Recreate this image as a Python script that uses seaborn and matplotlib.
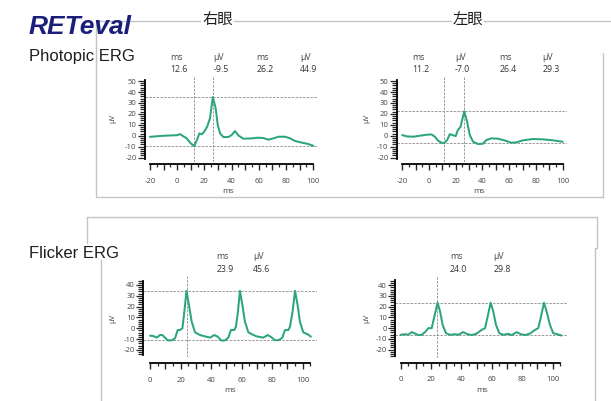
import numpy as np
import pandas as pd
import matplotlib
matplotlib.use("Agg")
import matplotlib.pyplot as plt
import seaborn as sns
from matplotlib.ticker import FixedLocator, FuncFormatter
from matplotlib.lines import Line2D

# ---------------- data ----------------
# Photopic ERG, right eye (右眼)
pr_ms = [-20, -10, 0, 2, 7, 10, 12.6, 15, 16.3, 18, 19.5, 22, 24.1, 25.4, 26.2, 28.3, 29.8,
         31.5, 33.9, 37.6, 40, 42.5, 44.9, 48.6, 54.8, 59.7, 63.3, 67, 70.7, 74.4, 79.3,
         83, 86.6, 91.5, 96.4, 100]
pr_uv = [-1, 0, 0.5, 1.5, -2.4, -7, -9.5, -2.4, 2.2, 1.3, 3.1, 8.2, 15.9, 28, 35.4, 25, 9.8,
         2.2, -1.2, -1.2, 0.6, 4.3, 0.3, -2.7, -2.4, -1.8, -2.1, -3.6, -2.4, -0.9, -0.9,
         -2.4, -4.8, -6.3, -7.6, -9.2]
# Photopic ERG, left eye (左眼)
pl_ms = [-20, -16.7, -11.8, -6.8, -1.8, 1.9, 4.4, 6.9, 9.4, 11.2, 13.6, 15.6, 17.6, 20, 21.6,
         23.6, 25.1, 26.4, 28.5, 30.5, 33, 36.7, 40.4, 43, 46.7, 51.6, 56.6, 61.6, 65.4,
         70.3, 77.8, 85.2, 92.7, 100]
pl_uv = [0.6, -0.6, -0.9, 0, 0.9, 1.2, -0.9, -4.6, -6.4, -7.0, -3.9, 1.5, 0.6, -0.3, 5.2,
         8.2, 15.9, 22.3, 12.8, 0.6, -5.5, -7.6, -7.3, -3.9, -2.4, -2.7, -4.3, -6.4, -6,
         -4.2, -3, -3.3, -4.2, -5.5]
# Flicker ERG, right eye
fr_ms = [0, 2.2, 4.4, 6.5, 8.1, 9.8, 11.6, 14.2, 16.4, 18.1, 19.6, 21.2, 22.5, 23.9, 25.5,
         27.3, 29.5, 32.7, 36, 39.3, 42.1, 44.3, 46.9, 49.1, 51.3, 53, 55.2, 56.3, 57.6,
         58.9, 60.5, 62.2, 64.4, 67.7, 69.8, 74.2, 77.1, 79.3, 81.9, 84.5, 86.7, 88.4, 90.6,
         91.7, 93.4, 95, 96.7, 98.2, 100.4, 103.3, 105.4]
fr_uv = [-6.8, -7.1, -8.6, -6.2, -6.2, -8.6, -11.1, -11.1, -9.2, -1.6, -1.6, 0, 15.4, 34.6,
         21.5, 6.1, -3.7, -6.2, -7.4, -8.6, -6.2, -7.7, -11.4, -11.1, -8.6, -1.6, -1.6, 1.5,
         15.4, 34.6, 21.5, 6.1, -3.7, -6.2, -7.4, -8.6, -6.2, -8, -11.1, -10.8, -8.6, -1.6,
         -1.6, 1.5, 15.4, 34.6, 21.5, 6.1, -3.7, -5.5, -7.7]
# Flicker ERG, left eye
fl_ms = [0, 3.3, 5, 7.2, 9.4, 11.6, 13.8, 16, 18.2, 20.4, 21.9, 24.3, 25.9, 27.6, 29.8, 32.4,
         35.7, 37.9, 41.2, 43.4, 46.7, 50, 53.3, 55.5, 57, 59.2, 60.9, 62.7, 64.9, 67.5, 70.8,
         73, 76.3, 78.5, 81.8, 85.1, 88.4, 90.5, 92.1, 94.3, 96, 98.2, 100.4, 103, 105.9]
fl_uv = [-6.2, -5.6, -6.2, -3.7, -5, -6.5, -6.2, -3.7, 0, 0, 9.3, 23.7, 15.6, 3.1, -4.7, -6.2,
         -5.6, -6.2, -3.7, -5.3, -6.5, -5, -1.6, 0, 9.3, 23.7, 15.6, 3.1, -4.7, -6.2, -5.3,
         -6.5, -3.7, -5.3, -6.5, -5, -1.6, 0, 9.3, 23.7, 15.6, 3.1, -4.7, -5.6, -6.9]

# marker (cursor) values
pr_marks = {"trough_ms": 12.6, "trough_uv": -9.5, "peak_ms": 26.2, "amp": 44.9}
pl_marks = {"trough_ms": 11.2, "trough_uv": -7.0, "peak_ms": 26.4, "amp": 29.3}
fr_marks = {"peak_ms": 23.9, "amp": 45.6, "trough_uv": -11.0}
fl_marks = {"peak_ms": 24.0, "amp": 29.8, "trough_uv": -6.1}

pr_header = [("ms", "12.6"), ("µV", "-9.5"), ("ms", "26.2"), ("µV", "44.9")]
pl_header = [("ms", "11.2"), ("µV", "-7.0"), ("ms", "26.4"), ("µV", "29.3")]
fr_header = [("ms", "23.9"), ("µV", "45.6")]
fl_header = [("ms", "24.0"), ("µV", "29.8")]

# ---------------- style ----------------
sns.set_style("white")
plt.rcParams['font.family'] = ['Open Sans', 'DejaVu Sans']

W, H = 611, 401
fig = plt.figure(figsize=(W / 100, H / 100), dpi=100)
fig.patch.set_facecolor("white")

GREEN = "#2BA678"
REF = "#8a8a8a"
TXT = "#444444"


def rect(l, r, t, b):
    return [l / W, 1 - b / H, (r - l) / W, (b - t) / H]


def fx(x):
    return x / W


def fy(y):
    return 1 - y / H


def fline(xs, ys, color="#c4c4c4", lw=1.0):
    fig.add_artist(Line2D([fx(x) for x in xs], [fy(y) for y in ys],
                          transform=fig.transFigure, color=color, lw=lw, zorder=0))


def draw(ax, ms, uv, vlines, hlines):
    for v in vlines:
        ax.axvline(v, color=REF, lw=0.6, ls=(0, (3, 1.5)), zorder=1)
    for h in hlines:
        ax.axhline(h, color=REF, lw=0.6, ls=(0, (3, 1.5)), zorder=1)
    df = pd.DataFrame({"ms": ms, "uv": uv})
    sns.lineplot(data=df, x="ms", y="uv", ax=ax, color=GREEN, lw=1.45, zorder=3)


def setup(ax, xlim, ylim, xb, yb, xoff, xmajor, xminor):
    ax.set_xlim(*xlim)
    ax.set_ylim(*ylim)
    ax.set_facecolor("none")
    for s in ("top", "right"):
        ax.spines[s].set_visible(False)
    for s in ("left", "bottom"):
        ax.spines[s].set_color("black")
        ax.spines[s].set_linewidth(1.3)
    ax.spines["left"].set_bounds(*yb)
    ax.spines["bottom"].set_bounds(*xb)
    ax.spines["bottom"].set_position(("outward", xoff))
    ax.yaxis.set_major_locator(FixedLocator(np.arange(np.ceil(yb[0] / 10) * 10, yb[1] + 0.01, 10)))
    ax.yaxis.set_minor_locator(FixedLocator(np.arange(np.ceil(yb[0] / 2) * 2, yb[1] + 0.01, 2)))
    ax.xaxis.set_major_locator(FixedLocator(xmajor))
    ax.xaxis.set_minor_locator(FixedLocator(xminor))
    ax.xaxis.set_major_formatter(FuncFormatter(lambda v, p: f"{v:.0f}" if abs(v % 20) < 1e-6 else ""))
    ax.yaxis.set_major_formatter(FuncFormatter(lambda v, p: f"{v:.0f}"))
    ax.tick_params(axis="y", which="major", direction="out", length=4.8, width=0.9,
                   labelsize=5.5, labelcolor=TXT, pad=1, left=True)
    ax.tick_params(axis="y", which="minor", direction="out", length=3.6, width=0.9, left=True)
    ax.tick_params(axis="x", which="major", direction="out", length=4, width=1.0,
                   labelsize=5.5, labelcolor=TXT, pad=5.5, bottom=True)
    ax.tick_params(axis="x", which="minor", direction="out", length=2.2, width=0.9, bottom=True)
    ax.set_xlabel("")
    ax.set_ylabel("")


# ---------------- frames ----------------
fline([96, 611], [21, 21])
fline([96, 96], [21, 197])
fline([96, 603], [197, 197])
fline([603, 603], [53, 197])
fline([87, 597], [217, 217])
fline([87, 87], [217, 243])
fline([100.7, 100.7], [260, 401])
fline([597, 597], [217, 248])
fline([595, 597], [248, 248])
fline([595, 595], [248, 401])

# ---------------- axes ----------------
ax1 = fig.add_axes(rect(144.5, 318, 76.7, 162.3))
draw(ax1, pr_ms, pr_uv, [pr_marks["trough_ms"], pr_marks["peak_ms"]],
     [pr_marks["trough_uv"], pr_marks["trough_uv"] + pr_marks["amp"]])
setup(ax1, (-24.0, 103.45), (-24.3, 54.0), (-20, 100), (-21, 51), 1.5,
      np.arange(-20, 101, 10), np.arange(-15, 100, 10))

ax2 = fig.add_axes(rect(396.5, 566.7, 76.7, 162.3))
draw(ax2, pl_ms, pl_uv, [pl_marks["trough_ms"], pl_marks["peak_ms"]],
     [pl_marks["trough_uv"], pl_marks["trough_uv"] + pl_marks["amp"]])
setup(ax2, (-24.3, 103.0), (-24.3, 54.0), (-20, 100), (-21, 51), 1.5,
      np.arange(-20, 101, 10), np.arange(-15, 100, 10))

ax3 = fig.add_axes(rect(143, 316.7, 276, 356.7))
draw(ax3, fr_ms, fr_uv, [fr_marks["peak_ms"]],
     [fr_marks["trough_uv"], fr_marks["trough_uv"] + fr_marks["amp"]])
setup(ax3, (-4.6, 109.2), (-26.2, 48.3), (0, 105), (-25, 44), 4.8,
      np.arange(0, 101, 10), np.arange(5, 106, 10))

ax4 = fig.add_axes(rect(395, 568, 276, 358))
draw(ax4, fl_ms, fl_uv, [fl_marks["peak_ms"]],
     [fl_marks["trough_uv"], fl_marks["trough_uv"] + fl_marks["amp"]])
setup(ax4, (-3.75, 110.1), (-27.8, 48.6), (0, 105), (-26, 45), 3.8,
      np.arange(0, 101, 10), np.arange(5, 106, 10))

# axis labels
for (x, y) in [(113, 118), (366.7, 118), (113.3, 318), (366.7, 318)]:
    fig.text(fx(x), fy(y), "µV", rotation=90, ha="center", va="center", fontsize=5.5, color=TXT)
for (x, y) in [(228, 191.7), (479, 191.7), (230, 390), (481.7, 390)]:
    fig.text(fx(x), fy(y), "ms", ha="center", va="center", fontsize=6, color=TXT)


# header values
def header(items, xs, ylab, yval):
    for (lab, val), x in zip(items, xs):
        fig.text(fx(x), fy(ylab), lab, ha="left", va="center", fontsize=6.3, color=TXT)
        fig.text(fx(x), fy(yval), val, ha="left", va="center", fontsize=6.3, color="#333333")


header(pr_header, [170.7, 213.3, 256.7, 300], 57, 70)
header(pl_header, [412.7, 455, 499.3, 542.7], 57, 70)
header(fr_header, [216.7, 253.3], 256.7, 269)
header(fl_header, [450, 493.3], 256.7, 269)

# titles
fig.text(fx(29), fy(27), "RETeval", fontsize=19, fontweight="bold", fontstyle="italic",
         family=["Liberation Sans", "DejaVu Sans"], color="#1b1f7a", ha="left", va="center")
fig.text(fx(29), fy(57), "Photopic ERG", fontsize=12, family=["Liberation Sans", "DejaVu Sans"],
         color="#1e1e1e", ha="left", va="center")
fig.text(fx(29), fy(253), "Flicker ERG", fontsize=12, family=["Liberation Sans", "DejaVu Sans"],
         color="#1e1e1e", ha="left", va="center")
bb = dict(facecolor="white", edgecolor="none", pad=0.5)
fig.text(fx(217.5), fy(20), "右眼", fontsize=11, family=["Noto Sans CJK JP", "DejaVu Sans"],
         color="#1e1e1e", ha="center", va="center", bbox=bb)
fig.text(fx(468), fy(20), "左眼", fontsize=11, family=["Noto Sans CJK JP", "DejaVu Sans"],
         color="#1e1e1e", ha="center", va="center", bbox=bb)

fig.savefig("out.png", dpi=100, facecolor="white")
